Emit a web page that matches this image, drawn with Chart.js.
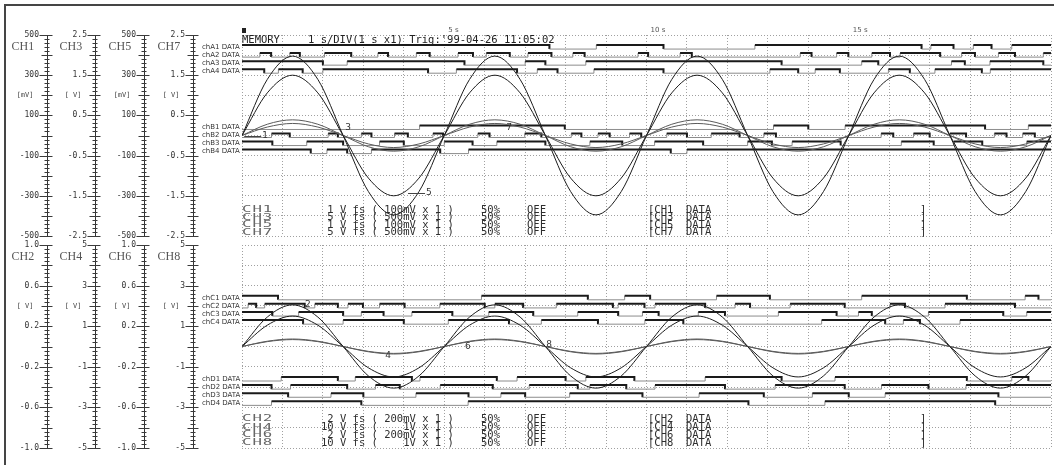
<!DOCTYPE html>
<html>
<head>
<meta charset="utf-8">
<script src="https://cdn.jsdelivr.net/npm/chart.js@4.4.1/dist/chart.umd.min.js"></script>
<style>
  html, body { margin: 0; padding: 0; background: #fff; }
  #wrap { position: relative; width: 1054px; height: 465px; overflow: hidden; }
  #frame { position: absolute; left: 4px; top: 4px; width: 1060px; height: 470px;
           border-left: 2px solid #454545; border-top: 2px solid #454545; }
  canvas { position: absolute; left: 0; }
  #top { top: 0; }
  #bot { top: 240px; }
</style>
</head>
<body>
<div id="wrap">
  <div id="frame"></div>
  <canvas id="top" width="1054" height="240"></canvas>
  <canvas id="bot" width="1054" height="225"></canvas>
</div>
<script>
// 1 s/DIV, 20 s on screen
const T_END = 20;
const timeTicks = [5, 10, 15];
const timeTickLabels = ['5 s', '10 s', '15 s'];

// sample times of the analog traces (s)
const tAnalog = [0, 0.625, 1.25, 1.875, 2.5, 3.125, 3.75, 4.375, 5, 5.625, 6.25, 6.875, 7.5, 8.125, 8.75, 9.375,
  10, 10.625, 11.25, 11.875, 12.5, 13.125, 13.75, 14.375, 15, 15.625, 16.25, 16.875, 17.5, 18.125, 18.75, 19.375, 20];

// analog channels, each in its own unit
const ch1 = [0, 279, 395, 279, 0, -279, -395, -279, 0, 279, 395, 279, 0, -279, -395, -279,
  0, 279, 395, 279, 0, -279, -395, -279, 0, 279, 395, 279, 0, -279, -395, -279, 0];          // mV
const ch3 = [0, 0.28, 0.39, 0.28, 0, -0.28, -0.39, -0.28, 0, 0.28, 0.39, 0.28, 0, -0.28, -0.39, -0.28,
  0, 0.28, 0.39, 0.28, 0, -0.28, -0.39, -0.28, 0, 0.28, 0.39, 0.28, 0, -0.28, -0.39, -0.28, 0]; // V
const ch5 = [0, 212, 300, 212, 0, -212, -300, -212, 0, 212, 300, 212, 0, -212, -300, -212,
  0, 212, 300, 212, 0, -212, -300, -212, 0, 212, 300, 212, 0, -212, -300, -212, 0];          // mV
const ch7 = [0, 0.21, 0.30, 0.21, 0, -0.21, -0.30, -0.21, 0, 0.21, 0.30, 0.21, 0, -0.21, -0.30, -0.21,
  0, 0.21, 0.30, 0.21, 0, -0.21, -0.30, -0.21, 0, 0.21, 0.30, 0.21, 0, -0.21, -0.30, -0.21, 0]; // V
const ch2 = [0, 0.29, 0.41, 0.29, 0, -0.29, -0.41, -0.29, 0, 0.29, 0.41, 0.29, 0, -0.29, -0.41, -0.29,
  0, 0.29, 0.41, 0.29, 0, -0.29, -0.41, -0.29, 0, 0.29, 0.41, 0.29, 0, -0.29, -0.41, -0.29, 0]; // V
const ch4 = [0, 0.26, 0.37, 0.26, 0, -0.26, -0.37, -0.26, 0, 0.26, 0.37, 0.26, 0, -0.26, -0.37, -0.26,
  0, 0.26, 0.37, 0.26, 0, -0.26, -0.37, -0.26, 0, 0.26, 0.37, 0.26, 0, -0.26, -0.37, -0.26, 0]; // V
const ch6 = [0, 0.21, 0.30, 0.21, 0, -0.21, -0.30, -0.21, 0, 0.21, 0.30, 0.21, 0, -0.21, -0.30, -0.21,
  0, 0.21, 0.30, 0.21, 0, -0.21, -0.30, -0.21, 0, 0.21, 0.30, 0.21, 0, -0.21, -0.30, -0.21, 0]; // V
const ch8 = [0, 0.24, 0.34, 0.24, 0, -0.24, -0.34, -0.24, 0, 0.24, 0.34, 0.24, 0, -0.24, -0.34, -0.24,
  0, 0.24, 0.34, 0.24, 0, -0.24, -0.34, -0.24, 0, 0.24, 0.34, 0.24, 0, -0.24, -0.34, -0.24, 0]; // V

// tick labels of the left scales
const tickCH1 = [500, 300, 100, -100, -300, -500];
const tickCH3 = [2.5, 1.5, 0.5, -0.5, -1.5, -2.5];
const tickCH2 = [1.0, 0.6, 0.2, -0.2, -0.6, -1.0];
const tickCH4 = [5, 3, 1, -1, -3, -5];

// logic channels: [start, end] of every high stretch (s)
const chA1 = [[0, 7.6], [8.76, 10.42], [12.68, 16.8], [17.03, 17.59], [18.08, 18.53], [19.03, 20]];
const chA2 = [[0.44, 0.72], [1.18, 1.43], [2.04, 2.7], [3.36, 3.61], [4.31, 4.64], [5.34, 5.71], [6.04, 6.62],
  [7.07, 7.65], [8.18, 8.47], [9.79, 10.04], [10.83, 11.12], [13.8, 14.08], [14.7, 14.99], [15.57, 16.02],
  [16.27, 17.26], [17.79, 18.12], [18.7, 19.11], [19.81, 20]];
const chA3 = [[0, 2.0], [2.6, 5.5], [7.0, 7.5], [8.5, 13.34], [15.32, 15.73], [17.54, 17.87], [18.49, 19.81]];
const chA4 = [[0, 0.55], [0.9, 1.5], [2.0, 4.6], [5.3, 6.8], [7.3, 7.8], [8.7, 10.42], [13.05, 13.75],
  [14.17, 14.78], [15.98, 16.51], [17.13, 18.29], [18.5, 20]];
const chB1 = [[4.39, 7.98], [13.14, 14.0], [14.91, 18.37], [19.44, 20]];
const chB2 = [[0.73, 1.18], [2.13, 2.37], [2.95, 3.2], [3.77, 4.1], [4.72, 4.97], [5.83, 6.12], [6.99, 7.4],
  [8.14, 8.39], [8.8, 9.09], [9.58, 9.87], [10.5, 11.0], [11.6, 12.3], [12.9, 13.2], [15.8, 16.1],
  [16.6, 17.0], [17.5, 17.9], [18.6, 18.9], [19.3, 19.6]];
const chB3 = [[0, 0.75], [1.6, 2.5], [3.4, 4.0], [5.0, 5.7], [6.3, 7.5], [8.6, 9.4], [10.2, 11.4],
  [12.5, 13.1], [13.6, 14.8], [16.3, 17.1], [17.6, 18.3], [19.4, 20]];
const chB4 = [[0, 1.7], [2.1, 2.6], [3.2, 4.9], [5.6, 10.6], [11.0, 20]];
const chC1 = [[0, 0.89], [5.92, 8.55], [9.46, 10.09], [11.73, 13.05], [15.32, 17.92], [19.36, 19.69]];
const chC2 = [[0.15, 0.35], [0.56, 1.55], [1.8, 2.37], [2.62, 2.99], [3.4, 4.02], [4.89, 6.0], [6.25, 6.95],
  [7.77, 9.17], [9.3, 9.95], [10.21, 11.45], [12.19, 12.56], [13.55, 14.9], [16.02, 16.39], [17.38, 19.11]];
const chC3 = [[0, 0.75], [1.4, 2.5], [2.95, 3.5], [4.2, 5.2], [6.1, 7.2], [8.3, 9.3], [9.9, 10.3],
  [11.28, 11.94], [13.26, 14.7], [15.24, 15.57], [16.97, 18.82], [19.4, 20]];
const chC4 = [[0, 1.51], [2.5, 4.0], [5.1, 6.6], [7.4, 8.8], [9.96, 10.91], [14.33, 15.9], [16.35, 16.76], [17.75, 20]];
const chD1 = [[0.97, 2.37], [2.8, 4.2], [4.4, 6.3], [6.8, 8.0], [8.5, 9.7], [11.45, 13.34], [14.66, 17.92], [19.03, 19.44]];
const chD2 = [[0, 0.73], [1.2, 2.6], [3.3, 3.9], [4.9, 6.2], [7.1, 8.3], [8.6, 9.5], [10.21, 11.94],
  [13.18, 14.9], [15.81, 16.97], [17.9, 20]];
const chD3 = [[0, 1.14], [2.2, 3.0], [4.3, 5.6], [6.4, 7.0], [8.1, 9.9], [11.3, 12.9], [14.1, 15.0], [15.9, 18.7]];
const chD4 = [[0.73, 2.95], [5.59, 12.52], [14.41, 18.62]];

// text blocks
const headerText = "1 s/DIV(1 s x1) Trig:'99-04-26 11:05:02";
const infoTop = [
  ['CH1', ' 1 V fs ( 100mV x 1 )', '50%', 'OFF', '[CH1  DATA'],
  ['CH3', ' 5 V fs ( 500mV x 1 )', '50%', 'OFF', '[CH3  DATA'],
  ['CH5', ' 1 V fs ( 100mV x 1 )', '50%', 'OFF', '[CH5  DATA'],
  ['CH7', ' 5 V fs ( 500mV x 1 )', '50%', 'OFF', '[CH7  DATA']
];
const infoBot = [
  ['CH2', ' 2 V fs ( 200mV x 1 )', '50%', 'OFF', '[CH2  DATA'],
  ['CH4', '10 V fs (    1V x 1 )', '50%', 'OFF', '[CH4  DATA'],
  ['CH6', ' 2 V fs ( 200mV x 1 )', '50%', 'OFF', '[CH6  DATA'],
  ['CH8', '10 V fs (    1V x 1 )', '50%', 'OFF', '[CH8  DATA']
];
const markersTop = [{ t: 0.5, d: 5.0, s: '1', lead: true }, { t: 2.55, d: 5.4, s: '3' },
  { t: 4.55, d: 2.15, s: '5', lead: true }, { t: 6.53, d: 5.37, s: '7' }];
const markersBot = [{ t: 1.56, d: 7.04, s: '2' }, { t: 3.54, d: 4.53, s: '4' },
  { t: 5.51, d: 4.98, s: '6' }, { t: 7.52, d: 5.07, s: '8' }];

// ---- layout / style ----
const GRID = '#a0a0a0';
const SWING = 0.1;   // half height of a logic trace, in divisions

const topCfg = {
  channels: [
    { id: 'ch1', name: 'CH1', unit: '[mV]', unitAt: 200, min: -500, max: 500, ticks: tickCH1, digits: 0, width: 41, data: ch1, color: '#1c1c1c' },
    { id: 'ch3', name: 'CH3', unit: '[ V]', unitAt: 1, min: -2.5, max: 2.5, ticks: tickCH3, digits: 1, width: 48, data: ch3, color: '#5a5a5a' },
    { id: 'ch5', name: 'CH5', unit: '[mV]', unitAt: 200, min: -500, max: 500, ticks: tickCH1, digits: 0, width: 49, data: ch5, color: '#1c1c1c' },
    { id: 'ch7', name: 'CH7', unit: '[ V]', unitAt: 1, min: -2.5, max: 2.5, ticks: tickCH3, digits: 1, width: 49, data: ch7, color: '#5a5a5a' }
  ],
  logic: [
    { name: 'chA1 DATA', row: 9.4, highs: chA1 }, { name: 'chA2 DATA', row: 9.0, highs: chA2 },
    { name: 'chA3 DATA', row: 8.6, highs: chA3 }, { name: 'chA4 DATA', row: 8.2, highs: chA4 },
    { name: 'chB1 DATA', row: 5.4, highs: chB1 }, { name: 'chB2 DATA', row: 5.0, highs: chB2 },
    { name: 'chB3 DATA', row: 4.6, highs: chB3 }, { name: 'chB4 DATA', row: 4.2, highs: chB4 }
  ],
  info: infoTop, infoRows: [1.3, 0.92, 0.55, 0.17],
  markers: markersTop, header: headerText, showTime: true,
  padding: { left: 6, right: 3, top: 0, bottom: 4 }
};
const botCfg = {
  channels: [
    { id: 'ch2', name: 'CH2', unit: '[ V]', unitAt: 0.4, min: -1, max: 1, ticks: tickCH2, digits: 1, width: 41, data: ch2, color: '#1c1c1c' },
    { id: 'ch4', name: 'CH4', unit: '[ V]', unitAt: 2, min: -5, max: 5, ticks: tickCH4, digits: 0, width: 48, data: ch4, color: '#5a5a5a' },
    { id: 'ch6', name: 'CH6', unit: '[ V]', unitAt: 0.4, min: -1, max: 1, ticks: tickCH2, digits: 1, width: 49, data: ch6, color: '#1c1c1c' },
    { id: 'ch8', name: 'CH8', unit: '[ V]', unitAt: 2, min: -5, max: 5, ticks: tickCH4, digits: 0, width: 49, data: ch8, color: '#5a5a5a' }
  ],
  logic: [
    { name: 'chC1 DATA', row: 7.4, highs: chC1 }, { name: 'chC2 DATA', row: 7.0, highs: chC2 },
    { name: 'chC3 DATA', row: 6.6, highs: chC3 }, { name: 'chC4 DATA', row: 6.2, highs: chC4 },
    { name: 'chD1 DATA', row: 3.4, highs: chD1 }, { name: 'chD2 DATA', row: 3.0, highs: chD2 },
    { name: 'chD3 DATA', row: 2.6, highs: chD3 }, { name: 'chD4 DATA', row: 2.2, highs: chD4 }
  ],
  info: infoBot, infoRows: [1.43, 1.03, 0.64, 0.25],
  markers: markersBot, header: null, showTime: false,
  padding: { left: 6, right: 3, top: 5, bottom: 17 }
};

function logicPoints(highs, row) {
  const pts = [];
  let t = 0;
  highs.forEach(([a, b]) => {
    if (a > t) pts.push({ x: t, y: row - SWING });
    pts.push({ x: a, y: row + SWING });
    t = b;
  });
  if (t < T_END) pts.push({ x: t, y: row - SWING });
  pts.push({ x: T_END, y: pts[pts.length - 1].y });
  return pts;
}

function buildDatasets(cfg) {
  const sets = [];
  cfg.channels.forEach(c => {
    sets.push({
      data: tAnalog.map((t, i) => ({ x: t, y: c.data[i] })),
      yAxisID: c.id, borderColor: c.color, borderWidth: 1, pointRadius: 0,
      cubicInterpolationMode: 'monotone'
    });
  });
  cfg.logic.forEach(l => {
    sets.push({
      data: logicPoints(l.highs, l.row), yAxisID: 'div', stepped: true,
      borderColor: '#8c8c8c', borderWidth: 1, pointRadius: 0,
      segment: {
        borderColor: c => c.p0.parsed.y > l.row ? '#1a1a1a' : '#8c8c8c',
        borderWidth: c => c.p0.parsed.y > l.row ? 2 : 1
      }
    });
  });
  return sets;
}

function buildScales(cfg) {
  const scales = {
    x: {
      type: 'linear', position: cfg.showTime ? 'top' : 'bottom', min: 0, max: T_END,
      ticks: {
        display: cfg.showTime, stepSize: 1, autoSkip: false, maxRotation: 0,
        align: 'start', labelOffset: 4, padding: 1, color: '#555',
        font: { family: 'DejaVu Sans', size: 7 },
        callback: v => { const i = timeTicks.indexOf(v); return i < 0 ? '' : timeTickLabels[i]; }
      },
      grid: { color: GRID, drawTicks: false, lineWidth: 1 },
      border: { display: false, dash: [1, 2] },
      afterFit: s => { s.height = cfg.showTime ? 35 : 0; }
    },
    div: {
      type: 'linear', position: 'left', min: 0, max: 10, weight: 1,
      ticks: { display: false, stepSize: 1, padding: 0 },
      grid: { color: GRID, drawTicks: false, lineWidth: 1 },
      border: { display: false, dash: [1, 2] },
      afterFit: s => { s.width = 49; }
    }
  };
  cfg.channels.forEach((c, i) => {
    scales[c.id] = {
      type: 'linear', position: 'left', min: c.min, max: c.max, weight: 5 - i,
      afterBuildTicks: s => { s.ticks = c.ticks.map(v => ({ value: v })); },
      ticks: {
        autoSkip: false, padding: 0, color: '#333',
        font: { family: 'DejaVu Sans Mono', size: 8, lineHeight: 1 },
        callback: v => v.toFixed(c.digits)
      },
      // tick marks are drawn by the plugin; tickLength only pushes the labels off the axis
      grid: { display: false, drawTicks: true, tickLength: 8 },
      border: { display: true, color: '#333', width: 1 },
      afterFit: s => { s.width = c.width; }
    };
  });
  return scales;
}

function scopePlugin(cfg) {
  return {
    id: 'scope',
    afterDraw(chart) {
      const { ctx, chartArea: area, scales } = chart;
      const div = scales.div, tx = scales.x;
      ctx.save();
      // tick marks, names and units of the left scales
      cfg.channels.forEach(c => {
        const s = scales[c.id];
        const ax = Math.round(s.right) - 0.5;
        const step = (c.max - c.min) / 50;
        ctx.strokeStyle = '#3a3a3a';
        ctx.lineWidth = 1;
        ctx.beginPath();
        for (let i = 0; i <= 50; i++) {
          const y = Math.round(s.getPixelForValue(c.max - i * step)) + 0.5;
          const left = i % 10 === 0 ? 7 : (i % 5 === 0 ? 5 : 2);
          const right = i % 5 === 0 ? 5 : 2;
          ctx.moveTo(ax - left, y);
          ctx.lineTo(ax + right + 1, y);
        }
        ctx.stroke();
        ctx.fillStyle = '#555';
        ctx.textBaseline = 'middle';
        ctx.textAlign = 'left';
        ctx.font = '12px "Liberation Serif"';
        ctx.fillText(c.name, ax - 35, area.top + 12);
        ctx.font = '7px "DejaVu Sans Mono"';
        ctx.textAlign = 'right';
        ctx.fillStyle = '#444';
        ctx.fillText(c.unit, ax - 13, s.getPixelForValue(c.unitAt));
      });

      // logic row names
      ctx.textAlign = 'left';
      ctx.fillStyle = '#333';
      ctx.font = '7px "DejaVu Sans"';
      cfg.logic.forEach(l => ctx.fillText(l.name, div.left + 9, div.getPixelForValue(l.row)));

      // header
      if (cfg.header) {
        ctx.fillStyle = '#222';
        ctx.font = '10.5px "DejaVu Sans Mono"';
        const y = div.getPixelForValue(9.75);
        ctx.fillText('MEMORY', area.left, y);
        ctx.fillText(cfg.header, area.left + 66, y);
        ctx.fillRect(area.left, area.top - 7, 4, 5);
      }

      // channel settings rows
      cfg.info.forEach((r, i) => {
        const y = div.getPixelForValue(cfg.infoRows[i]);
        ctx.save();
        ctx.translate(area.left, y);
        ctx.scale(1.65, 1);
        ctx.fillStyle = '#666';
        ctx.font = '9.5px "DejaVu Sans Mono"';
        ctx.letterSpacing = '0.6px';
        ctx.fillText(r[0], 0, 0);
        ctx.restore();
        ctx.fillStyle = '#2e2e2e';
        ctx.font = '10.5px "DejaVu Sans Mono"';
        ctx.fillText(r[1], area.left + 79, y);
        ctx.fillText(r[2], area.left + 239, y);
        ctx.fillText(r[3], area.left + 285, y);
        ctx.fillText(r[4], area.left + 406, y);
        ctx.fillText(']', area.left + 678, y);
      });

      // cursor markers
      ctx.font = '9px "DejaVu Sans"';
      ctx.fillStyle = '#333';
      ctx.strokeStyle = '#444';
      cfg.markers.forEach(m => {
        const px = tx.getPixelForValue(m.t), py = div.getPixelForValue(m.d);
        if (m.lead) {
          ctx.beginPath();
          ctx.moveTo(px - 18, Math.round(py) + 0.5);
          ctx.lineTo(px - 1, Math.round(py) + 0.5);
          ctx.stroke();
        }
        ctx.fillText(m.s, px, py);
      });
      ctx.restore();
    }
  };
}

function makeChart(canvasId, cfg) {
  return new Chart(document.getElementById(canvasId), {
    type: 'line',
    data: { datasets: buildDatasets(cfg) },
    options: {
      responsive: false,
      animation: false,
      devicePixelRatio: 1,
      events: [],
      layout: { autoPadding: false, padding: cfg.padding },
      plugins: { legend: { display: false }, tooltip: { enabled: false } },
      scales: buildScales(cfg)
    },
    plugins: [scopePlugin(cfg)]
  });
}

makeChart('top', topCfg);
makeChart('bot', botCfg);
</script>
</body>
</html>
